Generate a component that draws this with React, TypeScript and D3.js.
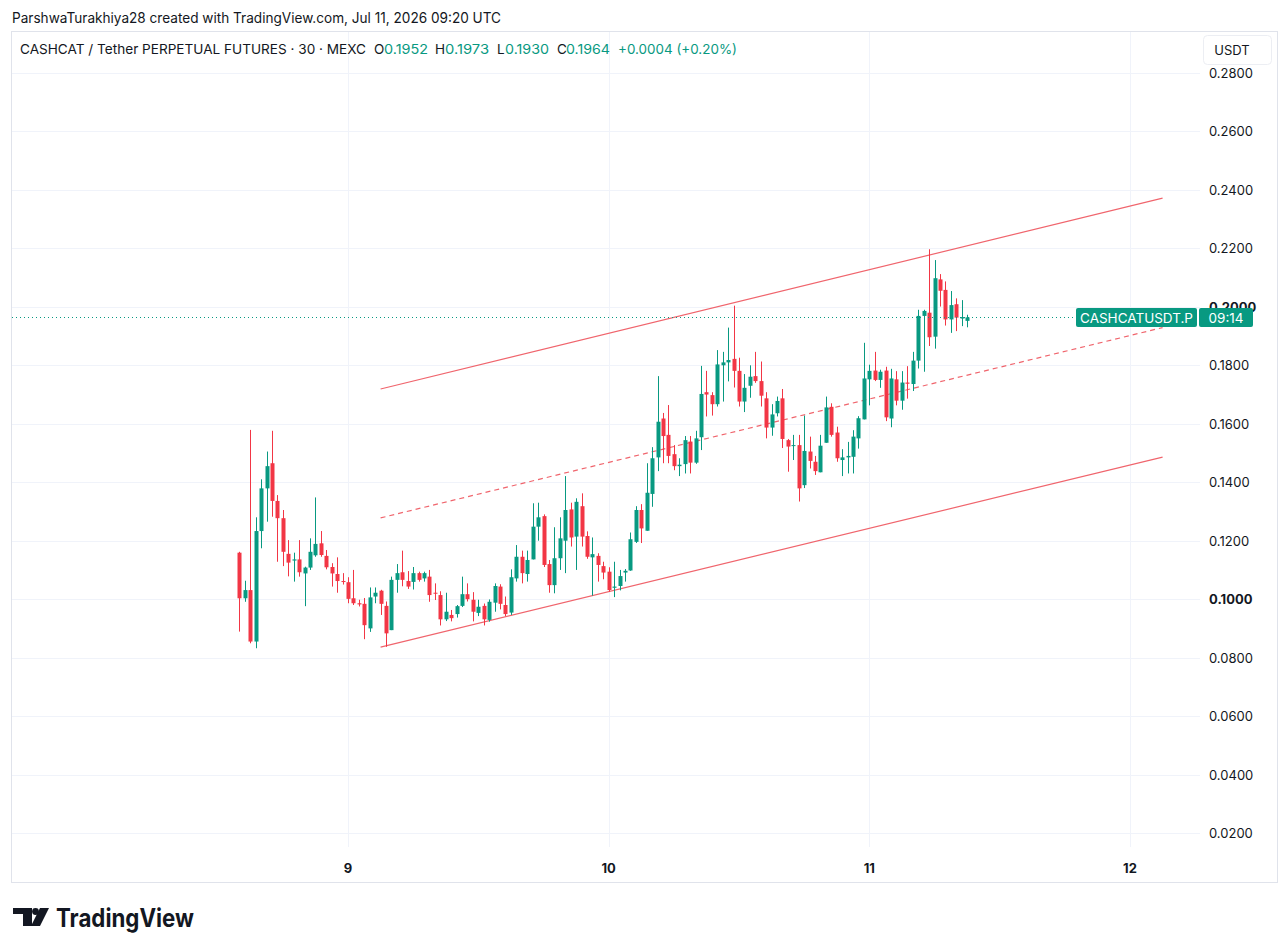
import { useMemo } from 'react';
import * as d3 from 'd3';

// 30 minute bars, first one Jul 8 2026 14:00 UTC
const startTime = Date.UTC(2026, 6, 8, 14, 0);
const barMs = 30 * 60 * 1000;

const opens = [
  0.1159, 0.1003, 0.1031, 0.0855, 0.1233, 0.1379, 0.1465, 0.1336, 0.1277, 0.1155,
  0.1132, 0.1136, 0.1088, 0.1108, 0.1150, 0.1191, 0.1148, 0.1110, 0.1086, 0.1062,
  0.1058, 0.1003, 0.0986, 0.0984, 0.0900, 0.1009, 0.1029, 0.0977, 0.0894, 0.1066,
  0.1092, 0.1062, 0.1059, 0.1089, 0.1071, 0.1077, 0.1022, 0.1014, 0.0931, 0.0946,
  0.0949, 0.0977, 0.1017, 0.0998, 0.0953, 0.0977, 0.0929, 0.0988, 0.1043, 0.0980,
  0.0954, 0.1071, 0.1145, 0.1086, 0.1136, 0.1248, 0.1284, 0.1120, 0.1048, 0.1140,
  0.1200, 0.1307, 0.1214, 0.1318, 0.1216, 0.1143, 0.1148, 0.1113, 0.1094, 0.1039,
  0.1045, 0.1091, 0.1098, 0.1196, 0.1305, 0.1234, 0.1360, 0.1485, 0.1618, 0.1562,
  0.1496, 0.1455, 0.1462, 0.1539, 0.1467, 0.1554, 0.1708, 0.1698, 0.1667, 0.1800,
  0.1810, 0.1822, 0.1781, 0.1676, 0.1730, 0.1763, 0.1746, 0.1687, 0.1587, 0.1636,
  0.1687, 0.1544, 0.1524, 0.1527, 0.1390, 0.1505, 0.1470, 0.1434, 0.1535, 0.1658,
  0.1570, 0.1476, 0.1485, 0.1487, 0.1550, 0.1615, 0.1752, 0.1782, 0.1750, 0.1782,
  0.1618, 0.1752, 0.1679, 0.1741, 0.1736, 0.1816, 0.1969, 0.1980, 0.1898, 0.2094,
  0.2058, 0.1957, 0.2009, 0.1960, 0.1952,
];
const highs = [
  0.1162, 0.1063, 0.1579, 0.1280, 0.1410, 0.1505, 0.1576, 0.1356, 0.1305, 0.1202,
  0.1159, 0.1202, 0.1111, 0.1208, 0.1348, 0.1233, 0.1168, 0.1123, 0.1143, 0.1089,
  0.1075, 0.1100, 0.0998, 0.1004, 0.1040, 0.1040, 0.1032, 0.0992, 0.1077, 0.1120,
  0.1166, 0.1096, 0.1110, 0.1094, 0.1094, 0.1100, 0.1054, 0.1027, 0.1022, 0.0963,
  0.0980, 0.1077, 0.1054, 0.1024, 0.0998, 0.0985, 0.0999, 0.1054, 0.1051, 0.1009,
  0.1102, 0.1185, 0.1166, 0.1166, 0.1328, 0.1330, 0.1290, 0.1134, 0.1246, 0.1280,
  0.1421, 0.1330, 0.1345, 0.1362, 0.1232, 0.1211, 0.1157, 0.1128, 0.1109, 0.1128,
  0.1100, 0.1103, 0.1228, 0.1318, 0.1325, 0.1465, 0.1520, 0.1763, 0.1637, 0.1664,
  0.1527, 0.1482, 0.1558, 0.1558, 0.1576, 0.1798, 0.1781, 0.1708, 0.1852, 0.1846,
  0.1929, 0.2004, 0.1826, 0.1770, 0.1800, 0.1846, 0.1813, 0.1708, 0.1667, 0.1693,
  0.1719, 0.1548, 0.1562, 0.1562, 0.1628, 0.1556, 0.1490, 0.1562, 0.1693, 0.1670,
  0.1590, 0.1513, 0.1538, 0.1578, 0.1626, 0.1877, 0.1802, 0.1846, 0.1785, 0.1795,
  0.1788, 0.1780, 0.1780, 0.1797, 0.1846, 0.1990, 0.1990, 0.2197, 0.2160, 0.2112,
  0.2087, 0.2054, 0.2029, 0.2023, 0.1973,
];
const lows = [
  0.0889, 0.0991, 0.0849, 0.0832, 0.1174, 0.1265, 0.1282, 0.1128, 0.1113, 0.1078,
  0.1060, 0.1077, 0.0976, 0.1100, 0.1145, 0.1145, 0.1102, 0.1043, 0.1022, 0.1050,
  0.0986, 0.0980, 0.0975, 0.0863, 0.0888, 0.0986, 0.0946, 0.0837, 0.0894, 0.1022,
  0.1044, 0.1035, 0.1033, 0.1060, 0.1060, 0.0991, 0.0997, 0.0910, 0.0925, 0.0924,
  0.0937, 0.0973, 0.0992, 0.0924, 0.0942, 0.0910, 0.0923, 0.0957, 0.0965, 0.0942,
  0.0946, 0.1060, 0.1054, 0.1060, 0.1136, 0.1200, 0.1110, 0.1022, 0.1020, 0.1100,
  0.1089, 0.1180, 0.1100, 0.1180, 0.1138, 0.1012, 0.1060, 0.1068, 0.1025, 0.1007,
  0.1030, 0.1060, 0.1097, 0.1192, 0.1192, 0.1234, 0.1316, 0.1438, 0.1465, 0.1465,
  0.1441, 0.1421, 0.1430, 0.1430, 0.1463, 0.1510, 0.1625, 0.1628, 0.1659, 0.1676,
  0.1745, 0.1724, 0.1659, 0.1640, 0.1689, 0.1740, 0.1659, 0.1550, 0.1559, 0.1625,
  0.1517, 0.1436, 0.1476, 0.1334, 0.1380, 0.1447, 0.1425, 0.1434, 0.1535, 0.1556,
  0.1470, 0.1421, 0.1430, 0.1430, 0.1515, 0.1615, 0.1663, 0.1746, 0.1723, 0.1609,
  0.1588, 0.1663, 0.1648, 0.1686, 0.1712, 0.1789, 0.1778, 0.1866, 0.1857, 0.2001,
  0.1936, 0.1911, 0.1917, 0.1934, 0.1930,
];
const closes = [
  0.1003, 0.1031, 0.0855, 0.1233, 0.1379, 0.1455, 0.1336, 0.1277, 0.1162, 0.1125,
  0.1136, 0.1092, 0.1108, 0.1162, 0.1189, 0.1151, 0.1109, 0.1088, 0.1062, 0.1060,
  0.1001, 0.0986, 0.0982, 0.0911, 0.1006, 0.1022, 0.0984, 0.0883, 0.1066, 0.1089,
  0.1066, 0.1043, 0.1089, 0.1066, 0.1089, 0.1014, 0.1020, 0.0931, 0.0957, 0.0935,
  0.0976, 0.1017, 0.1000, 0.0957, 0.0974, 0.0931, 0.0991, 0.1045, 0.0984, 0.0949,
  0.1075, 0.1145, 0.1089, 0.1134, 0.1248, 0.1280, 0.1117, 0.1048, 0.1140, 0.1208,
  0.1305, 0.1211, 0.1333, 0.1214, 0.1145, 0.1154, 0.1117, 0.1091, 0.1031, 0.1043,
  0.1079, 0.1097, 0.1205, 0.1305, 0.1242, 0.1364, 0.1482, 0.1607, 0.1558, 0.1490,
  0.1455, 0.1460, 0.1544, 0.1467, 0.1550, 0.1702, 0.1700, 0.1667, 0.1803, 0.1810,
  0.1818, 0.1781, 0.1676, 0.1723, 0.1761, 0.1746, 0.1696, 0.1587, 0.1632, 0.1678,
  0.1548, 0.1522, 0.1527, 0.1379, 0.1507, 0.1473, 0.1438, 0.1525, 0.1656, 0.1562,
  0.1482, 0.1485, 0.1490, 0.1556, 0.1619, 0.1755, 0.1781, 0.1750, 0.1778, 0.1622,
  0.1755, 0.1679, 0.1741, 0.1737, 0.1816, 0.1969, 0.1986, 0.1896, 0.2098, 0.2055,
  0.1957, 0.2006, 0.1963, 0.1965, 0.1964,
];

const priceTicks = [0.02, 0.04, 0.06, 0.08, 0.1, 0.12, 0.14, 0.16, 0.18, 0.2, 0.22, 0.24, 0.26, 0.28];
const dayTicks = [9, 10, 11, 12];

// parallel channel drawn on the chart
const channelTimes = [Date.UTC(2026, 6, 9, 3, 0), Date.UTC(2026, 6, 12, 3, 0)];
const upperLine = [0.1719, 0.2372];
const midLine = [0.1278, 0.1929];
const lowerLine = [0.0836, 0.1486];

// legend of the last bar
const legendKeys = ['O', 'H', 'L', 'C'];
const legendValues = ['0.1952', '0.1973', '0.1930', '0.1964'];
const legendChange = '+0.0004 (+0.20%)';

const lastPrice = 0.1964;
const countdown = '09:14';
const symbolLabel = 'CASHCATUSDT.P';

const GREEN = '#089981';
const RED = '#F23645';
const FONT = '-apple-system, "Inter", "Roboto", "Liberation Sans", sans-serif';

export default function App() {
  const W = 1288;
  const H = 952;
  const plot = { left: 12, right: 1200, top: 32, bottom: 847 };

  const x = useMemo(
    () => d3.scaleUtc().domain([Date.UTC(2026, 6, 9), Date.UTC(2026, 6, 12)]).range([348, 1130]),
    []
  );
  const y = useMemo(() => d3.scaleLinear().domain([0.02, 0.28]).range([833, 73]), []);

  const bars = opens.map((o, i) => ({
    t: startTime + i * barMs,
    o,
    h: highs[i],
    l: lows[i],
    c: closes[i],
  }));

  const line = d3
    .line<[number, number]>()
    .x(d => x(d[0]))
    .y(d => y(d[1]));
  const channel = (vals: number[]) =>
    line(channelTimes.map((t, i) => [t, vals[i]] as [number, number])) || '';

  const bodyW = 4;
  const lastY = Math.round(y(lastPrice)) + 0.5;
  const legendStarts = [374, 435, 497, 557];
  const keyWidths = [10, 10, 8, 9];

  return (
    <div style={{ position: 'absolute', left: 0, top: 0 }}>
      <svg width={W} height={H} style={{ display: 'block', background: '#fff', fontFamily: FONT }}>
        {/* title line */}
        <text x={12} y={23} fontSize={14} fill="#131722" textLength={489} lengthAdjust="spacingAndGlyphs">
          ParshwaTurakhiya28 created with TradingView.com, Jul 11, 2026 09:20 UTC
        </text>

        {/* frame */}
        <rect x={11.5} y={31.5} width={1266} height={851} fill="#fff" stroke="#e0e3eb" />

        {/* grid */}
        {priceTicks.map(p => (
          <line key={'h' + p} x1={plot.left} x2={plot.right} y1={Math.round(y(p)) + 0.5} y2={Math.round(y(p)) + 0.5} stroke="#f0f3fa" />
        ))}
        {dayTicks.map(d => {
          const xx = Math.round(x(Date.UTC(2026, 6, d))) + 0.5;
          return <line key={'v' + d} x1={xx} x2={xx} y1={plot.top} y2={plot.bottom} stroke="#f0f3fa" />;
        })}

        {/* channel */}
        <path d={channel(upperLine)} stroke="#f0656d" strokeWidth={1.2} fill="none" />
        <path d={channel(lowerLine)} stroke="#f0656d" strokeWidth={1.2} fill="none" />
        <path d={channel(midLine)} stroke="#f0656d" strokeWidth={1.2} strokeDasharray="5 4" fill="none" />

        {/* candles */}
        {bars.map((b, i) => {
          const cx = Math.round(x(b.t));
          const col = b.c >= b.o ? GREEN : RED;
          const top = y(Math.max(b.o, b.c));
          const bot = y(Math.min(b.o, b.c));
          return (
            <g key={i}>
              <line x1={cx + 0.5} x2={cx + 0.5} y1={y(b.h)} y2={y(b.l)} stroke={col} strokeWidth={1} />
              <rect x={cx + 0.5 - bodyW / 2} y={top} width={bodyW} height={Math.max(1, bot - top)} fill={col} />
            </g>
          );
        })}

        {/* last price line */}
        <line x1={plot.left} x2={1076} y1={lastY} y2={lastY} stroke={GREEN} strokeWidth={1} strokeDasharray="1 3" />

        {/* legend */}
        <text x={20} y={54} fontSize={13.5} fill="#131722" textLength={346} lengthAdjust="spacingAndGlyphs">
          CASHCAT / Tether PERPETUAL FUTURES · 30 · MEXC
        </text>
        {legendKeys.map((k, i) => (
          <g key={'lg' + k}>
            <text x={legendStarts[i]} y={54} fontSize={13.5} fill="#131722">{k}</text>
            <text x={legendStarts[i] + keyWidths[i]} y={54} fontSize={13.5} fill={GREEN} textLength={44} lengthAdjust="spacingAndGlyphs">
              {legendValues[i]}
            </text>
          </g>
        ))}
        <text x={618} y={54} fontSize={13.5} fill={GREEN} textLength={119} lengthAdjust="spacingAndGlyphs">
          {legendChange}
        </text>

        {/* price axis */}
        {priceTicks.map(p => {
          const round = Math.abs(p * 10 - Math.round(p * 10)) < 1e-9;
          return (
            <text key={'pl' + p} x={1209} y={y(p) + 5} fontSize={13} fill="#131722" fontWeight={round ? 700 : 400}>
              {p.toFixed(4)}
            </text>
          );
        })}

        {/* currency box */}
        <rect x={1203.5} y={35.5} width={68} height={29} rx={4} fill="#fff" stroke="#eceef3" />
        <text x={1232} y={55} fontSize={13} fill="#131722" textAnchor="middle">USDT</text>

        {/* symbol / countdown label */}
        <rect x={1076} y={lastY - 9.5} width={121} height={19} rx={2} fill={GREEN} />
        <rect x={1199} y={lastY - 9.5} width={54} height={19} rx={2} fill={GREEN} />
        <text x={1136.5} y={lastY + 5} fontSize={13.5} fill="#fff" textAnchor="middle">{symbolLabel}</text>
        <text x={1226} y={lastY + 5} fontSize={13.5} fill="#fff" textAnchor="middle">{countdown}</text>

        {/* time axis */}
        {dayTicks.map(d => (
          <text key={'tl' + d} x={x(Date.UTC(2026, 6, d))} y={873} fontSize={13} fontWeight={700} fill="#131722" textAnchor="middle">
            {d}
          </text>
        ))}

        {/* logo */}
        <g fill="#131722">
          <path d="M13 908 H32 V926 H23 V914 H13 Z" />
          <circle cx={35.5} cy={911.5} r={3.4} />
          <path d="M40 908 H49 L40 926 H31 Z" />
        </g>
        <text x={56} y={927} fontSize={25} fontWeight={700} fill="#131722" textLength={138} lengthAdjust="spacingAndGlyphs">
          TradingView
        </text>
      </svg>
    </div>
  );
}
